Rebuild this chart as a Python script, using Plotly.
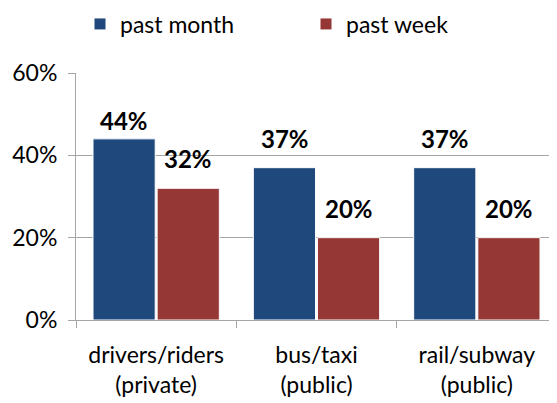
import plotly.graph_objects as go

categories = ["drivers/riders<br>(private)", "bus/taxi<br>(public)", "rail/subway<br>(public)"]
past_month = [44, 37, 37]
past_week = [32, 20, 20]
series_names = ["past month", "past week"]
y_ticks = [0, 20, 40, 60]
y_tick_labels = ["0%", "20%", "40%", "60%"]

colors = ["#1F497D", "#953735"]
FONT = "Lato, Liberation Sans, Arial, sans-serif"
# label offsets (style only)
label_style = {"past month": dict(xshift=-32, yshift=[2, 13, 13]),
               "past week": dict(xshift=32, yshift=[13, 13, 13])}

fig = go.Figure()
legends = ["legend", "legend2"]
for name, vals, col, lg in zip(series_names, [past_month, past_week], colors, legends):
    fig.add_trace(go.Bar(
        x=categories, y=vals, name=name, legend=lg,
        marker=dict(color=col, line=dict(color="white", width=1)),
    ))
    st = label_style[name]
    for c, v, ys in zip(categories, vals, st["yshift"]):
        fig.add_annotation(
            x=c, y=v, text=f"<b>{v}%</b>", showarrow=False,
            xshift=st["xshift"], yshift=ys, yanchor="bottom",
            font=dict(family=FONT, size=24, color="black"),
        )

W, H = 549, 395
leg_common = dict(
    orientation="h", yref="container", xref="container",
    xanchor="left", yanchor="middle", y=1 - 16 / H,
    font=dict(family=FONT, size=23, color="black"),
    bgcolor="rgba(0,0,0,0)",
)
fig.update_layout(
    width=W, height=H,
    margin=dict(l=68, r=0, t=65, b=83, autoexpand=False),
    paper_bgcolor="white", plot_bgcolor="white",
    barmode="group", bargap=0.2, bargroupgap=0.03,
    font=dict(family=FONT, color="black"),
    showlegend=True,
    legend=dict(x=72 / W, **leg_common),
    legend2=dict(x=298 / W, **leg_common),
)
fig.update_yaxes(
    range=[0, 60], tickvals=y_ticks, ticktext=y_tick_labels,
    showgrid=True, gridcolor="#A6A6A6", gridwidth=1,
    showline=True, linecolor="#A6A6A6", linewidth=1,
    ticks="outside", ticklen=7, tickcolor="#A6A6A6", ticklabelstandoff=6,
    tickfont=dict(family=FONT, size=23, color="black"),
    zeroline=False,
)
fig.update_xaxes(
    showline=True, linecolor="#A6A6A6", linewidth=1,
    ticks="outside", ticklen=7, tickcolor="#A6A6A6", tickson="boundaries",
    ticklabelstandoff=14,
    tickfont=dict(family=FONT, size=23, color="black"),
)

fig.write_html("out.html")
